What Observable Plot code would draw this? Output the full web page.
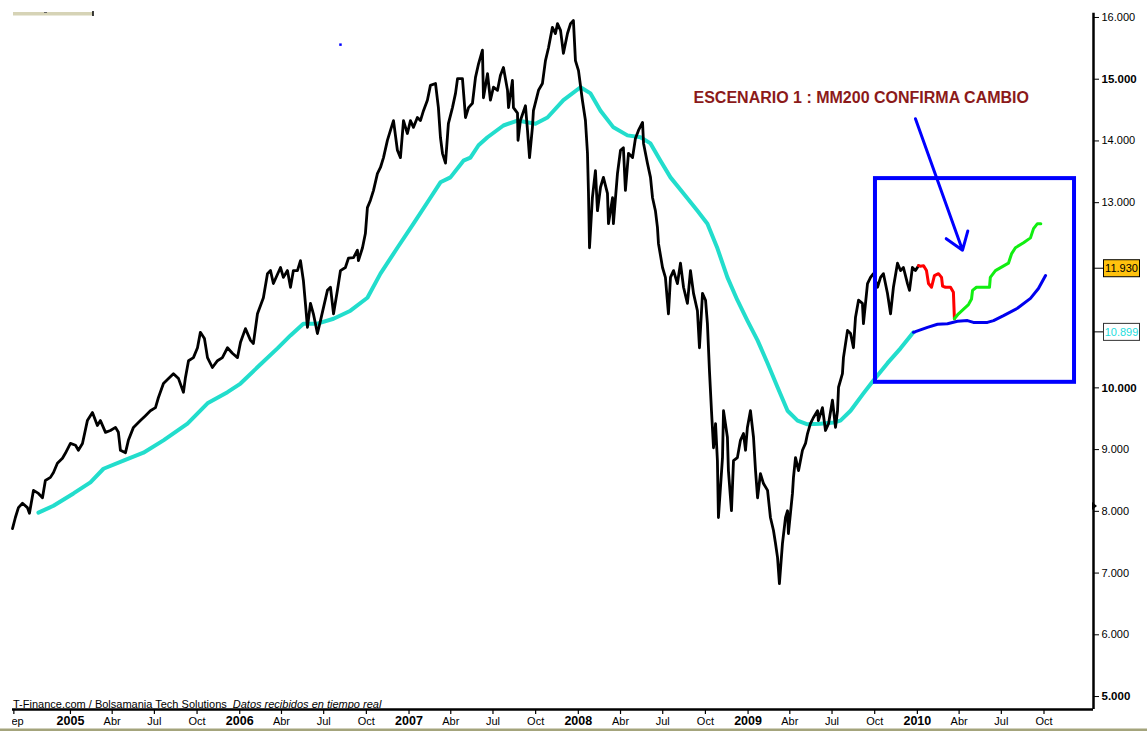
<!DOCTYPE html>
<html><head><meta charset="utf-8">
<script src="https://cdn.jsdelivr.net/npm/d3@7"></script>
<script src="https://cdn.jsdelivr.net/npm/@observablehq/plot@0.6"></script>
<style>
html,body{margin:0;padding:0;background:#fff;}
#chart{width:1147px;height:731px;overflow:hidden;}
</style></head><body><div id="chart"></div>
<script>
// ---- data (x in fractional years, y in index points) ----
const price = [[2004.658,7720],[2004.675,7900],[2004.693,8060],[2004.717,8130],[2004.746,8060],[2004.758,7970],[2004.782,8340],[2004.811,8290],[2004.835,8220],[2004.852,8500],[2004.882,8550],[2004.900,8630],[2004.923,8780],[2004.953,8860],[2004.970,8940],[2005.000,9100],[2005.030,9070],[2005.047,8990],[2005.071,9100],[2005.100,9470],[2005.130,9600],[2005.159,9390],[2005.177,9470],[2005.207,9280],[2005.236,9310],[2005.266,9360],[2005.283,9280],[2005.295,8990],[2005.325,8950],[2005.342,9150],[2005.372,9360],[2005.413,9470],[2005.443,9550],[2005.472,9630],[2005.502,9680],[2005.519,9840],[2005.549,10070],[2005.579,10150],[2005.608,10230],[2005.638,10150],[2005.667,9930],[2005.679,10170],[2005.697,10440],[2005.726,10490],[2005.750,10650],[2005.767,10900],[2005.791,10800],[2005.809,10490],[2005.838,10330],[2005.868,10440],[2005.897,10490],[2005.927,10650],[2005.956,10560],[2005.986,10490],[2006.004,10740],[2006.033,10960],[2006.063,10770],[2006.080,10720],[2006.104,11200],[2006.139,11460],[2006.163,11850],[2006.181,11900],[2006.198,11690],[2006.240,11950],[2006.257,11790],[2006.281,11900],[2006.299,11630],[2006.316,11900],[2006.340,11900],[2006.358,12060],[2006.375,11740],[2006.387,11370],[2006.399,10980],[2006.417,11370],[2006.434,11200],[2006.458,10880],[2006.476,11090],[2006.517,11580],[2006.535,11630],[2006.553,11200],[2006.576,11580],[2006.594,11900],[2006.623,11950],[2006.641,12100],[2006.671,12110],[2006.694,12230],[2006.700,12060],[2006.724,12270],[2006.741,12500],[2006.753,12920],[2006.771,13040],[2006.789,13200],[2006.812,13470],[2006.830,13570],[2006.848,13730],[2006.871,14010],[2006.889,14170],[2006.907,14330],[2006.930,13850],[2006.948,13730],[2006.966,14330],[2006.989,14120],[2007.007,14330],[2007.025,14220],[2007.048,14380],[2007.066,14330],[2007.084,14490],[2007.107,14660],[2007.125,14900],[2007.155,14930],[2007.172,14540],[2007.184,14060],[2007.196,13800],[2007.214,13640],[2007.231,14280],[2007.255,14540],[2007.273,14770],[2007.285,15010],[2007.314,15010],[2007.332,14380],[2007.350,14540],[2007.373,14610],[2007.391,15030],[2007.409,15250],[2007.432,15470],[2007.438,14700],[2007.462,15090],[2007.479,14660],[2007.497,14870],[2007.521,14820],[2007.538,15060],[2007.556,15190],[2007.580,14820],[2007.586,14540],[2007.609,14980],[2007.615,14540],[2007.639,14450],[2007.642,14010],[2007.656,14330],[2007.686,14570],[2007.698,14170],[2007.710,13730],[2007.727,14220],[2007.733,14490],[2007.763,14820],[2007.786,14930],[2007.804,15300],[2007.822,15510],[2007.845,15840],[2007.863,15740],[2007.875,15900],[2007.893,15790],[2007.910,15420],[2007.934,15740],[2007.952,15900],[2007.969,15950],[2007.981,15300],[2007.999,15140],[2008.022,14660],[2008.040,14330],[2008.052,13800],[2008.058,13150],[2008.064,12270],[2008.081,13080],[2008.099,13520],[2008.111,12870],[2008.129,13250],[2008.146,13410],[2008.170,13150],[2008.176,12660],[2008.200,13080],[2008.205,12660],[2008.229,13470],[2008.247,13850],[2008.264,13890],[2008.276,13200],[2008.294,13800],[2008.318,13730],[2008.335,14040],[2008.353,14170],[2008.377,14300],[2008.383,13960],[2008.406,13640],[2008.424,13410],[2008.436,13080],[2008.453,12870],[2008.465,12600],[2008.471,12340],[2008.495,11950],[2008.512,11790],[2008.530,11200],[2008.542,11790],[2008.560,11900],[2008.583,11690],[2008.601,12020],[2008.619,11630],[2008.642,11370],[2008.660,11900],[2008.678,11530],[2008.701,11250],[2008.713,10650],[2008.731,11530],[2008.749,11420],[2008.760,11040],[2008.772,10280],[2008.784,9630],[2008.796,9030],[2008.808,9420],[2008.819,8820],[2008.825,7900],[2008.849,8870],[2008.855,9630],[2008.878,9200],[2008.884,8660],[2008.902,8010],[2008.914,8820],[2008.937,8870],[2008.955,9150],[2008.973,9260],[2008.985,8990],[2008.996,9360],[2009.014,9630],[2009.032,9200],[2009.044,8660],[2009.056,8220],[2009.073,8610],[2009.091,8450],[2009.115,8340],[2009.132,7900],[2009.150,7690],[2009.162,7480],[2009.174,7250],[2009.185,6830],[2009.203,7480],[2009.221,7900],[2009.233,8010],[2009.238,7640],[2009.262,8290],[2009.268,8550],[2009.280,8870],[2009.298,8660],[2009.321,8990],[2009.339,9100],[2009.351,9260],[2009.368,9420],[2009.386,9520],[2009.410,9630],[2009.415,9470],[2009.439,9680],[2009.457,9310],[2009.475,9420],[2009.498,9800],[2009.516,9360],[2009.528,9630],[2009.534,10010],[2009.557,10230],[2009.563,10490],[2009.587,10930],[2009.605,10880],[2009.622,10650],[2009.634,11140],[2009.652,11420],[2009.675,11370],[2009.681,11040],[2009.705,11690],[2009.723,11790],[2009.740,11850],[2009.764,11630],[2009.782,11790],[2009.799,11850],[2009.823,11530],[2009.841,11200],[2009.858,11630],[2009.882,12020],[2009.900,11900],[2009.917,11950],[2009.941,11690],[2009.953,11580],[2009.970,11950],[2009.988,11900],[2010.006,11980]];

const mm200 = [[2004.811,7980],[2004.900,8090],[2005.018,8290],[2005.118,8470],[2005.195,8690],[2005.313,8820],[2005.431,8950],[2005.549,9150],[2005.691,9420],[2005.809,9750],[2005.927,9930],[2006.004,10070],[2006.110,10350],[2006.222,10640],[2006.299,10850],[2006.375,11040],[2006.458,11040],[2006.553,11120],[2006.653,11250],[2006.753,11460],[2006.830,11850],[2006.930,12270],[2007.025,12660],[2007.125,13080],[2007.184,13330],[2007.243,13410],[2007.320,13680],[2007.361,13730],[2007.409,13930],[2007.462,14060],[2007.556,14250],[2007.639,14330],[2007.745,14280],[2007.816,14380],[2007.910,14660],[2008.011,14870],[2008.070,14770],[2008.129,14490],[2008.205,14220],[2008.288,14090],[2008.365,14060],[2008.424,13960],[2008.483,13680],[2008.542,13410],[2008.619,13150],[2008.701,12870],[2008.760,12660],[2008.819,12260],[2008.878,11790],[2008.937,11420],[2008.996,11090],[2009.056,10770],[2009.115,10400],[2009.174,10010],[2009.233,9630],[2009.292,9470],[2009.351,9410],[2009.427,9420],[2009.504,9440],[2009.545,9470],[2009.605,9630],[2009.681,9910],[2009.740,10120],[2009.823,10400],[2009.900,10640],[2009.976,10900]];

const scenarioRed = [[2010.006,11980],[2010.018,11970],[2010.036,11980],[2010.053,11900],[2010.065,11690],[2010.083,11630],[2010.100,11820],[2010.124,11850],[2010.142,11790],[2010.148,11650],[2010.165,11630],[2010.195,11630],[2010.212,11550],[2010.218,11120]];
const scenarioGreen = [[2010.218,11120],[2010.242,11200],[2010.301,11350],[2010.319,11440],[2010.325,11580],[2010.348,11630],[2010.425,11630],[2010.430,11790],[2010.460,11900],[2010.537,12020],[2010.555,12170],[2010.578,12270],[2010.626,12350],[2010.667,12430],[2010.685,12580],[2010.708,12660],[2010.728,12660]];
const scenarioMM = [[2009.976,10900],[2009.988,10910],[2010.059,10980],[2010.118,11030],[2010.177,11040],[2010.236,11080],[2010.295,11090],[2010.330,11060],[2010.413,11060],[2010.449,11090],[2010.508,11170],[2010.590,11290],[2010.667,11450],[2010.714,11610],[2010.756,11820]];

const yTicksRegular = [6000, 7000, 8000, 9000, 13000, 14000, 16000];
const yTicksBold = [5000, 10000, 15000];
const tickYears = [2005, 2006, 2007, 2008, 2009, 2010];
const monthNames = {3: "Abr", 6: "Jul", 8: "Sep", 9: "Oct"};
const annotation = "ESCENARIO 1 : MM200 CONFIRMA CAMBIO";
const annotationPos = [2008.678, 14700];
const box = {x1: 2009.752, x2: 2010.927, y1: 10090, y2: 13390};
const arrow = {x1: 2009.988, y1: 14360, x2: 2010.266, y2: 12230};
const blueMark = [[2006.594, 15560]];
const lastPrice = 11930, lastMM = 10899, sideMarker = 8080;
const footerA = "T-Finance.com / Bolsamania Tech Solutions";
const footerB = "Datos recibidos en tiempo real";

// ---- helpers ----
const T0 = Date.UTC(2005, 0, 1);
const toDate = fy => new Date(T0 + (fy - 2005) * 365.25 * 86400000);
const X = d => toDate(d[0]), Y = d => d[1];

const yearTicks = tickYears.map(y => new Date(Date.UTC(y, 0, 1)));
const monthTicks = [new Date(Date.UTC(2004, 8, 1))];
tickYears.forEach(y => [3, 6, 9].forEach(m => monthTicks.push(new Date(Date.UTC(y, m, 1)))));
const fmtK = v => (v / 1000).toFixed(3);

const font = "'Liberation Sans', Arial, sans-serif";
const yMin = 4790, yMax = 16275;
const xEnd = toDate(2011.039);

const plot = Plot.plot({
  width: 1147, height: 731,
  marginLeft: 12, marginRight: 54, marginTop: 0, marginBottom: 22,
  x: {type: "utc", domain: [toDate(2004.658), xEnd]},
  y: {domain: [yMin, yMax]},
  style: {fontFamily: font, fontSize: "11px", color: "#000", background: "#fff", overflow: "visible"},
  marks: [
    Plot.axisX({ticks: monthTicks, tickFormat: d => monthNames[d.getUTCMonth()], tickSize: 5, tickPadding: 3, fontSize: 11, stroke: "#000", strokeWidth: 1.2}),
    Plot.axisX({ticks: yearTicks, tickFormat: d => String(d.getUTCFullYear()), tickSize: 5, tickPadding: 2, fontSize: 12.5, fontWeight: "bold", stroke: "#000", strokeWidth: 1.2}),
    Plot.axisY({anchor: "right", ticks: yTicksRegular, tickFormat: fmtK, tickSize: 5, tickPadding: 3, fontSize: 11, textAnchor: "start"}),
    Plot.axisY({anchor: "right", ticks: yTicksBold, tickFormat: fmtK, tickSize: 5, tickPadding: 3, fontSize: 11.5, fontWeight: "bold", textAnchor: "start"}),
    Plot.ruleY([yMin], {stroke: "#000", strokeWidth: 2.5}),
    Plot.ruleX([xEnd], {y1: yMin, y2: 16070, stroke: "#000", strokeWidth: 2.5}),
    Plot.line(mm200, {x: X, y: Y, stroke: "#22DDCC", strokeWidth: 4}),
    Plot.line(price, {x: X, y: Y, stroke: "#000", strokeWidth: 2.8, strokeLinejoin: "round"}),
    Plot.rect([box], {x1: d => toDate(d.x1), x2: d => toDate(d.x2), y1: "y1", y2: "y2", fill: "none", stroke: "#0000FF", strokeWidth: 4}),
    Plot.line(scenarioMM, {x: X, y: Y, stroke: "#0000EE", strokeWidth: 3}),
    Plot.line(scenarioRed, {x: X, y: Y, stroke: "#FF0000", strokeWidth: 3}),
    Plot.line(scenarioGreen, {x: X, y: Y, stroke: "#11EE11", strokeWidth: 3}),
    Plot.arrow([arrow], {x1: d => toDate(d.x1), y1: "y1", x2: d => toDate(d.x2), y2: "y2", stroke: "#0000FF", strokeWidth: 3, headLength: 10, headAngle: 70, inset: 0}),
    Plot.text([annotation], {x: toDate(annotationPos[0]), y: annotationPos[1], text: d => d, textAnchor: "start", fill: "#8B1A1A", fontSize: 16, fontWeight: "bold"}),
    Plot.dot(blueMark, {x: X, y: Y, symbol: "square", r: 1.4, fill: "#0000FF", stroke: "none"})
  ]
});

document.getElementById("chart").appendChild(plot);

// ---- decorations on the same SVG, positioned through Plot's y scale ----
const svg = d3.select(plot);
const yS = plot.scale("y");
const axisX = 1093;
svg.append("rect").attr("x", 0).attr("y", 712).attr("width", 12).attr("height", 15).attr("fill", "#fff");
function valueBox(v, fill, color, border) {
  const cy = yS.apply(v);
  svg.append("line").attr("x1", axisX).attr("x2", 1103).attr("y1", cy).attr("y2", cy).attr("stroke", "#000");
  svg.append("rect").attr("x", 1103.5).attr("y", cy - 8.5).attr("width", 36).attr("height", 17)
    .attr("fill", fill).attr("stroke", border).attr("stroke-width", 1);
  svg.append("text").attr("x", 1121.5).attr("y", cy).attr("dy", "0.36em").attr("text-anchor", "middle")
    .attr("font-family", font).attr("font-size", 11).attr("fill", color).text(fmtK(v));
}
valueBox(lastPrice, "#FFC20E", "#000", "#000");
valueBox(lastMM, "#fff", "#22DDDD", "#333");
{
  const cy = yS.apply(sideMarker);
  svg.append("path").attr("d", `M${axisX - 1},${cy - 4}L${axisX + 4},${cy}L${axisX - 1},${cy + 4}Z`).attr("fill", "#000");
}
// cut-off legend strip at the top left
svg.append("rect").attr("x", 13).attr("y", 12).attr("width", 80).attr("height", 3.5).attr("fill", "#D6D3B6");
svg.append("rect").attr("x", 44).attr("y", 12).attr("width", 3).attr("height", 1).attr("fill", "#666");
svg.append("line").attr("x1", 93).attr("x2", 93).attr("y1", 11).attr("y2", 16).attr("stroke", "#000").attr("stroke-width", 1.5);
// source footer
const ft = svg.append("text").attr("x", 13).attr("y", 707.5).attr("text-anchor", "start")
  .attr("font-family", font).attr("font-size", 11).attr("fill", "#000");
ft.append("tspan").text(footerA);
ft.append("tspan").attr("dx", 6).attr("font-style", "italic").text(footerB);
// olive bottom strip
svg.append("rect").attr("x", 0).attr("y", 728.5).attr("width", 1147).attr("height", 2.5).attr("fill", "#A4A47C");
</script></body></html>
